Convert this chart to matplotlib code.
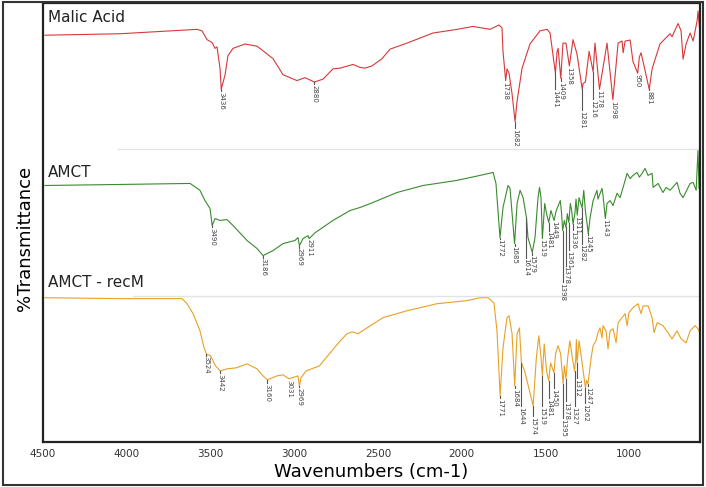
import numpy as np
import matplotlib.pyplot as plt
from matplotlib.patches import Rectangle

# spectra: wavenumber (cm-1) and %T inside each panel (0-100)
malic_wn = [4488, 4040, 3581, 3551, 3521, 3491, 3473, 3461, 3443, 3436, 3413, 3396, 3366, 3294,
            3222, 3127, 3067, 2984, 2936, 2880, 2828, 2769, 2727, 2649, 2607, 2578, 2536, 2476,
            2428, 2327, 2172, 2028, 1933, 1831, 1778, 1760, 1754, 1738, 1730, 1718, 1700, 1682,
            1670, 1640, 1593, 1533, 1491, 1473, 1441, 1431, 1425, 1409, 1396, 1378, 1358, 1336,
            1312, 1281, 1276, 1262, 1240, 1216, 1205, 1178, 1133, 1098, 1067, 1043, 1037, 1025,
            995, 978, 950, 940, 930, 918, 881, 864, 817, 757, 745, 709, 691, 679, 661, 637, 619,
            595, 590, 578]
malic_t = [78, 79, 82, 81, 75, 73, 69, 70, 55, 41, 51, 64, 69, 72,
           70.5, 62, 51, 47, 49, 46, 48, 55, 55.5, 58, 56, 55.5, 57, 62,
           68.5, 72.6, 79.5, 82, 84, 82, 85, 83, 67, 47, 55, 52, 38, 19,
           33, 55.5, 72, 81, 82, 79.5, 52, 67, 69, 48.6, 72.6, 72.6, 57, 75,
           65, 41, 45, 46, 67, 53, 72.6, 41, 72.6, 34, 72.6, 74, 66, 74,
           74.7, 60, 52, 63, 66, 60, 41, 55, 72, 79, 77, 86, 81, 61.6, 72, 79.5, 74,
           88, 94.5, 79.5]

amct_wn = [4488, 4040, 3622, 3563, 3533, 3503, 3490, 3473, 3443, 3402, 3366, 3282, 3222, 3186,
           3127, 3067, 2996, 2978, 2969, 2948, 2918, 2911, 2876, 2769, 2667, 2607, 2530, 2387,
           2231, 2028, 1891, 1813, 1796, 1772, 1754, 1724, 1712, 1685, 1670, 1652, 1634, 1614,
           1605, 1579, 1563, 1545, 1536, 1527, 1519, 1505, 1494, 1481, 1468, 1449, 1436, 1412,
           1404, 1398, 1388, 1378, 1370, 1361, 1352, 1344, 1336, 1325, 1318, 1311, 1300, 1290,
           1282, 1272, 1262, 1245, 1234, 1216, 1193, 1187, 1163, 1157, 1143, 1133, 1115, 1097,
           1073, 1055, 1037, 1013, 995, 978, 954, 940, 924, 906, 888, 864, 858, 828, 799, 780,
           757, 715, 697, 679, 637, 619, 601, 590, 584, 572]
amct_t = [75.3, 76, 76.7, 72, 65, 59.6, 48, 52.7, 51.4, 52, 48, 37.7, 32.2, 27.4,
          30.8, 35.6, 37.7, 39.7, 34.2, 39, 41, 39, 43, 51.4, 58.2, 60.3, 63.7, 70.5,
          75.3, 78.8, 82.2, 84.2, 76.7, 39.7, 60.3, 75.3, 73.3, 35.6, 63, 72, 67, 53.4,
          39.7, 29.5, 39.7, 67, 74, 67, 39, 63, 56, 50, 58.2, 51.4, 58.2, 65,
          56, 44.5, 51.4, 46.6, 56, 50, 63, 58, 49, 56, 66, 55, 67, 63,
          60, 72, 58, 42.5, 53.4, 65, 72, 66, 73.3, 68.5, 52.7, 63, 65, 61.6,
          70, 67, 74, 83.6, 80, 82.2, 84.2, 81, 83.6, 87, 82.2, 83.6, 74, 76.7, 70.5, 74,
          72, 77.4, 70, 67, 76.7, 77.4, 72, 99.3, 74, 67]

recm_wn = [4488, 4040, 3670, 3640, 3604, 3563, 3540, 3524, 3500, 3470, 3442, 3402, 3345, 3282,
           3222, 3187, 3160, 3103, 3067, 3031, 2996, 2978, 2969, 2960, 2930, 2850, 2790, 2727,
           2685, 2655, 2619, 2566, 2470, 2327, 2148, 1969, 1891, 1843, 1808, 1790, 1771, 1754,
           1730, 1718, 1700, 1684, 1670, 1656, 1644, 1625, 1574, 1555, 1540, 1527, 1519,
           1508, 1494, 1481, 1470, 1450, 1440, 1425, 1410, 1395, 1388, 1378, 1368, 1355, 1340,
           1327, 1320, 1316, 1312, 1300, 1290, 1262, 1255, 1247, 1228, 1216, 1199, 1187, 1175,
           1163, 1157, 1139, 1127, 1115, 1097, 1079, 1067, 1043, 1025, 1013, 1002, 978, 948,
           930, 918, 888, 864, 852, 834, 799, 769, 745, 715, 691, 661, 637, 607, 590, 566]
recm_t = [98.6, 98, 98, 94.5, 87.7, 76, 65, 60, 59, 52, 48.6, 50, 50.7, 53.4,
          50, 45.2, 42.5, 45.2, 45.9, 43.2, 44.5, 45.2, 38.4, 43.8, 48.6, 52, 60.3, 69,
          74, 75.3, 74, 78, 85, 89.7, 94.5, 96.6, 98.6, 98.6, 95, 76, 31.5, 64.4,
          85, 86.3, 74, 38.4, 74, 78, 54, 48.6, 24.7, 57.5, 72.6, 57.5, 45.2,
          67, 48.6, 41.8, 54, 47.3, 60.3, 65.8, 60.3, 39.7, 52, 43.2, 57.5, 69.2, 57.5,
          48.6, 56.8, 70, 54, 69.2, 61, 37, 42, 39.7, 57.5, 65.8, 69.2, 74.7, 78,
          71, 79.5, 76, 63.7, 76, 77.4, 67.8, 81.5, 85, 87.7, 79.5, 88.4, 91.8, 94.5,
          87.7, 93, 93, 85, 74.7, 81.5, 79.5, 74.7, 70.5, 76, 70.5, 67.8, 76, 79.5, 77.4, 71]

# peak labels and where their text starts (%T in panel)
malic_peaks = [3436, 2880, 1738, 1682, 1441, 1409, 1358, 1281, 1216, 1178, 1098, 950, 881]
malic_lab_t = [39.7, 44.5, 46.6, 14.4, 41.1, 46.6, 56.8, 26.7, 34.2, 41.1, 33.6, 52, 40.4]
amct_peaks = [3490, 3186, 2969, 2911, 1772, 1685, 1614, 1579, 1519, 1481, 1449, 1398, 1378,
              1361, 1336, 1311, 1282, 1245, 1143]
amct_lab_t = [46.6, 26, 32.9, 39.7, 39, 34.2, 26, 28, 39, 44.5, 51.4, 9.5, 20.5,
              31, 45, 55, 35.6, 41.8, 52.7]
recm_peaks = [3524, 3442, 3160, 3031, 2969, 1771, 1684, 1644, 1574, 1519, 1481, 1450, 1395,
              1378, 1327, 1312, 1262, 1247]
recm_lab_t = [59, 47.3, 40.4, 43.2, 37.7, 30, 37, 24.7, 17.8, 24.7, 30, 37, 16.4,
              28, 24.7, 43.8, 26.5, 38]

names = ["Malic Acid", "AMCT", "AMCT - recM"]
name_y = [290, 184.5, 108.7]
colors = ["#d8373a", "#3a8a2e", "#e8a125"]
offsets = [200, 100, 0]
xticks = [4500, 4000, 3500, 3000, 2500, 2000, 1500, 1000]

spectra = [(malic_wn, malic_t, malic_peaks, malic_lab_t),
           (amct_wn, amct_t, amct_peaks, amct_lab_t),
           (recm_wn, recm_t, recm_peaks, recm_lab_t)]

narrow = ["Liberation Sans Narrow", "DejaVu Sans"]

fig = plt.figure(figsize=(7.06, 4.87), dpi=100)
ax = fig.add_axes([0.0609, 0.0924, 0.9306, 0.9014])

for (wn, t, peaks, lab_t), name, ny, col, off in zip(spectra, names, name_y, colors, offsets):
    wn = np.array(wn)
    t = np.array(t) + off
    ax.plot(wn, t, color=col, lw=0.8)
    for p, lt in zip(peaks, lab_t):
        top = np.interp(p, wn[::-1], t[::-1])
        ly = min(top, lt + off)
        ax.plot([p, p], [top, ly], color="#555555", lw=0.8)
        ax.text(p, ly - 0.5, str(p), rotation=270, ha="center", va="top",
                fontsize=5, color="#444444")
    ax.text(4470, ny, name, fontsize=11, va="center", ha="left", color="#222222")

# panel separators
ax.axhline(200, xmin=0.114, color="#e3e3e3", lw=1)
ax.axhline(100, xmin=0.137, color="#e3e3e3", lw=1)

ax.set_xlim(4500, 578)
ax.set_ylim(0, 300)
ax.set_xticks(xticks)
ax.set_xticklabels([str(v) for v in xticks], fontsize=7.5, color="#333333", family=narrow)
ax.tick_params(axis="x", length=0, pad=5)
ax.set_yticks([])
for s in ax.spines.values():
    s.set_linewidth(1.6)
    s.set_color("#222222")
ax.set_xlabel("Wavenumbers (cm-1)", fontsize=13, labelpad=3, family=narrow)
fig.text(0.035, 0.51, "%Transmittance", rotation=90, fontsize=13, ha="center", va="center",
         family=narrow)

fig.patches.append(Rectangle((0.004, 0.004), 0.992, 0.992, transform=fig.transFigure,
                             fill=False, edgecolor="#333333", lw=1.5))

fig.savefig("out.png", dpi=100)
